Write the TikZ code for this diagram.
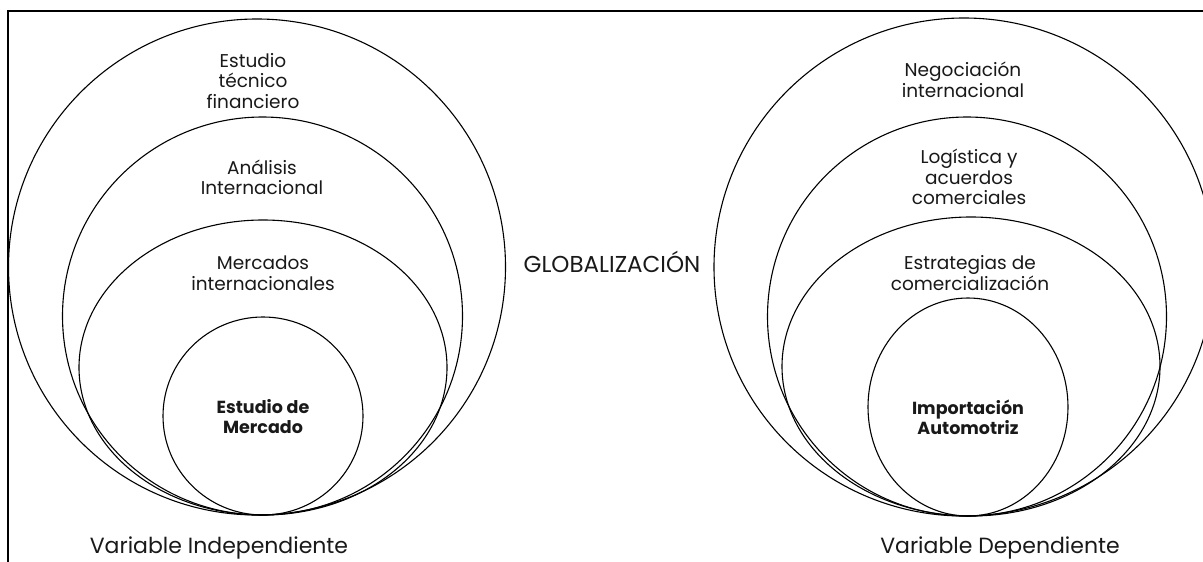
\documentclass[tikz,border=0pt]{standalone}
\usepackage{fontspec}
\setmainfont{Poppins}
\begin{document}
\begin{tikzpicture}[x=1pt,y=-1pt,
  ring/.style={draw=black,line width=1.1pt},
  lbl/.style={align=center,text=black!90,font=\fontsize{18.5}{20.5}\selectfont,inner sep=0pt},
  core/.style={lbl,font=\fontsize{17.5}{20}\selectfont\bfseries},
  varlbl/.style={text=black!90,font=\fontsize{22}{24}\selectfont,inner sep=0pt},
  glob/.style={text=black!90,font=\fontsize{23}{24}\selectfont,inner sep=0pt}]
\useasboundingbox (0,0) rectangle (1203,562);
\fill[white] (0,0) rectangle (1203,562);
% frame
\draw[line width=1.5pt] (8,562) -- (8,11) -- (1203,11);
% left group
\draw[ring] (257,267) ellipse [x radius=248.5pt, y radius=248pt];
\draw[ring] (262.5,316) ellipse [x radius=200pt, y radius=199pt];
\draw[ring] (263,367.5) ellipse [x radius=184pt, y radius=147.5pt];
\draw[ring] (263,416) ellipse [x radius=100pt, y radius=99pt];
% right group
\draw[ring] (964,267) ellipse [x radius=250pt, y radius=249pt];
\draw[ring] (967,316.5) ellipse [x radius=199.5pt, y radius=199.5pt];
\draw[ring] (971,366.5) ellipse [x radius=189pt, y radius=149.5pt];
\draw[ring] (968,407) ellipse [x radius=100pt, y radius=109pt];
% left labels
\node[lbl] (l1) at (253,81) {Estudio\\técnico\\financiero};
\node[lbl] (l2) at (262,177.5) {Análisis\\Internacional};
\node[lbl] (l3) at (263,273) {Mercados\\internacionales};
\node[core] (l4) at (263,417) {Estudio de\\Mercado};
\node[varlbl] (vi) at (219,548) {Variable Independiente};
% centre
\node[glob] (g) at (612,262) {GLOBALIZACIÓN};
% right labels
\node[lbl] (r1) at (963,80) {Negociación\\internacional};
\node[lbl] (r2) at (969,177) {Logística y\\acuerdos\\comerciales};
\node[lbl] (r3) at (970,273) {Estrategias de\\comercialización};
\node[core] (r4) at (968,417) {Importación\\Automotriz};
\node[varlbl] (vd) at (1000,548) {Variable Dependiente};
\end{tikzpicture}
\end{document}
